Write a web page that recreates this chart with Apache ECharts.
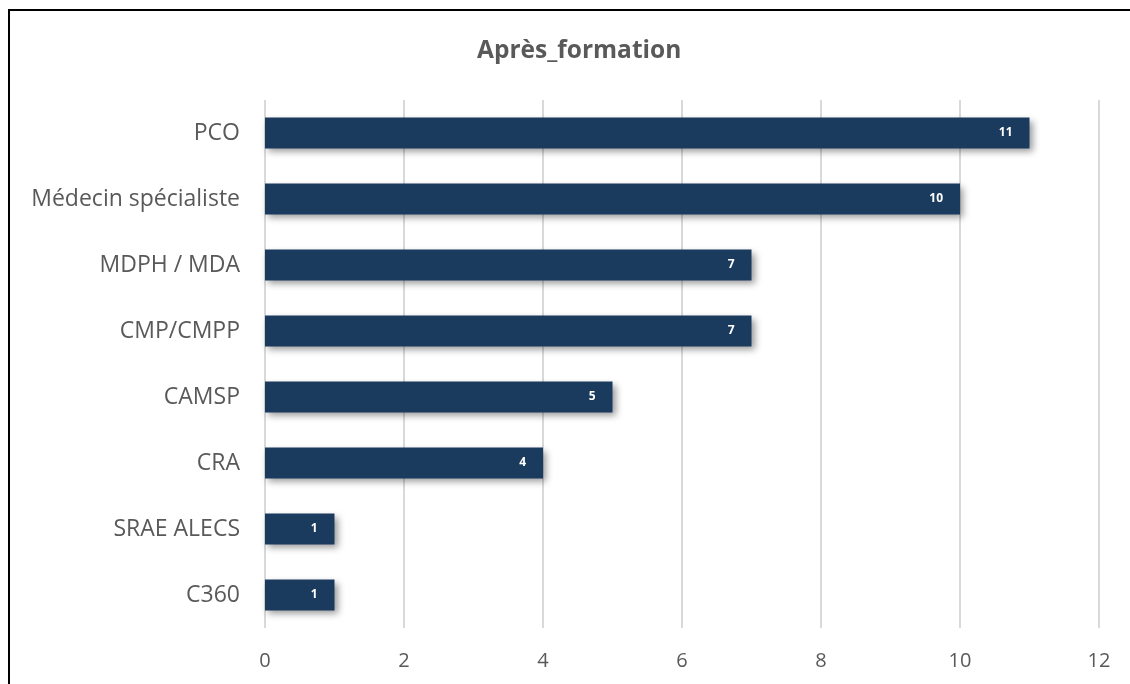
<!DOCTYPE html>
<html><head><meta charset="utf-8">
<script src="https://cdn.jsdelivr.net/npm/echarts@6/dist/echarts.min.js"></script>
<style>
html,body{margin:0;padding:0;background:#fff;overflow:hidden;}
#frame{position:absolute;left:8px;top:9px;width:1200px;height:800px;border-left:2px solid #000;border-top:2px solid #000;}
#main{position:absolute;left:0;top:0;width:1130px;height:684px;}
</style></head>
<body>
<div id="frame"></div>
<div id="main"></div>
<script>
const title = 'Après_formation';
const categories = ['PCO', 'Médecin spécialiste', 'MDPH / MDA', 'CMP/CMPP', 'CAMSP', 'CRA', 'SRAE ALECS', 'C360'];
const values = [11, 10, 7, 7, 5, 4, 1, 1];
const xTicks = [0, 2, 4, 6, 8, 10, 12];

const chart = echarts.init(document.getElementById('main'));
chart.setOption({
  backgroundColor: 'transparent',
  animation: false,
  title: {
    text: title, left: 472, top: 34,
    textStyle: { fontFamily: 'Open Sans', fontSize: 24.5, fontWeight: 'bold', color: '#595959' }
  },
  grid: { left: 265, right: 31, top: 100, bottom: 56, containLabel: false },
  xAxis: {
    type: 'value', min: xTicks[0], max: xTicks[xTicks.length - 1], interval: 2,
    axisLine: { show: false }, axisTick: { show: false },
    axisLabel: { fontFamily: 'Open Sans', fontSize: 20, color: '#595959', margin: 23 },
    splitLine: { lineStyle: { color: '#d9d9d9', width: 2 } }
  },
  yAxis: {
    type: 'category', data: categories, inverse: true,
    axisLine: { show: false }, axisTick: { show: false },
    axisLabel: { fontFamily: 'Open Sans', fontSize: 23, color: '#595959', margin: 25 }
  },
  series: [{
    type: 'bar', data: values, barWidth: 31,
    itemStyle: {
      color: '#1a3a5e',
      shadowColor: 'rgba(0,0,0,0.4)', shadowBlur: 7, shadowOffsetX: 3, shadowOffsetY: 3
    },
    label: {
      show: true, position: 'insideRight', distance: 17,
      fontFamily: 'Open Sans', fontSize: 12, fontWeight: 'bold', color: '#ffffff'
    }
  }]
});
</script>
</body></html>
